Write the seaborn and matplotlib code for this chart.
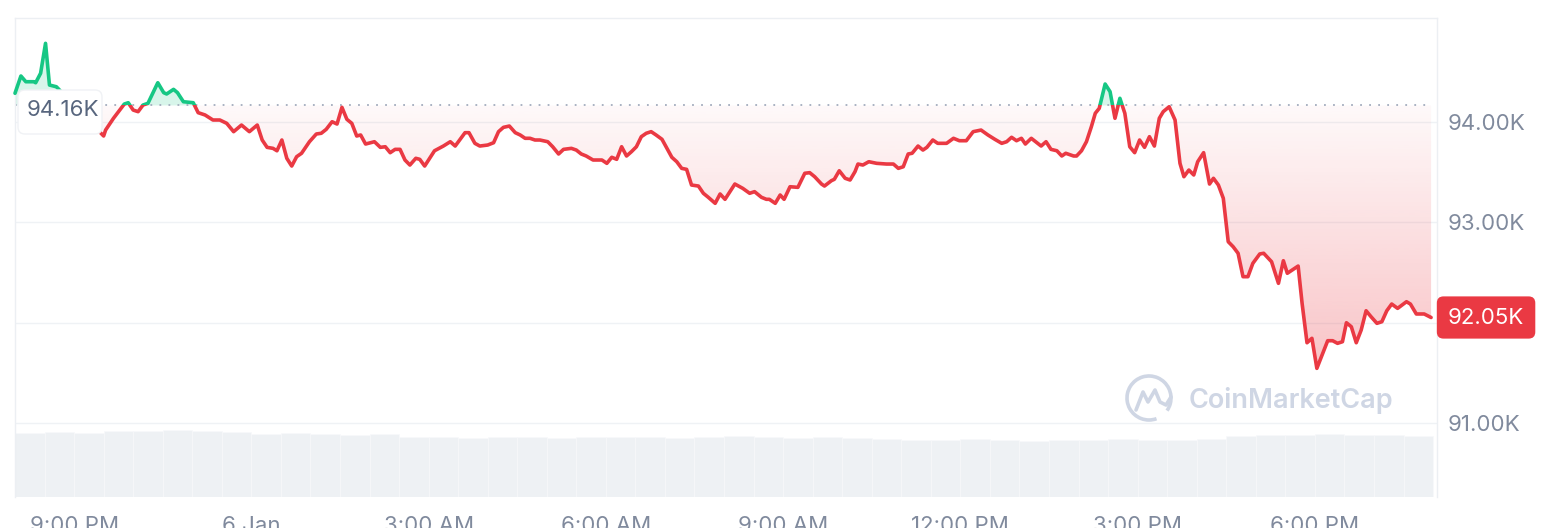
import numpy as np
import pandas as pd
import seaborn as sns
import matplotlib.pyplot as plt
import matplotlib.dates as mdates
from matplotlib.patches import Rectangle, Arc, FancyBboxPatch
from matplotlib.path import Path
from matplotlib.ticker import FixedLocator

# BTC price, 24h window, minutes after 5 Jan 20:00
start = pd.Timestamp('2025-01-05 20:00')
minutes = [0, 6, 11, 19, 21, 26, 31, 35, 42,
           90, 92, 100, 111, 115, 120, 125, 130, 135, 145, 151, 154, 161, 165, 171, 181, 186, 193, 201, 208,
           215, 222, 230, 238,
           246, 251, 256, 262, 266, 271, 276, 281, 286, 291, 299, 306, 311, 316, 322, 327, 332, 337, 342, 347,
           351, 356, 361, 365, 371, 376, 381, 386, 391, 396, 401, 407, 411, 416, 421, 426, 435, 442, 447, 452,
           457, 461, 467, 472,
           480, 486, 491, 496, 502, 508, 513, 518, 523, 528, 533, 541, 546, 552, 557, 565, 570, 575, 580, 587,
           596, 601, 606, 611, 616, 621, 626, 631, 636, 641, 646, 651, 657, 662, 667, 672, 677, 682, 687, 694,
           699, 704, 711, 716, 721,
           731, 739, 746, 751, 758, 763, 766, 772, 777, 781, 787, 795, 802, 807, 812, 819, 822, 829, 832, 837,
           843, 848, 853, 856, 861, 867, 875, 885, 892, 897, 902, 907, 911, 917, 922, 926, 932, 937, 946, 953,
           959, 966,
           973, 981, 988, 995, 1002, 1007, 1012, 1017, 1022, 1026, 1032, 1042, 1047, 1052, 1058, 1063, 1067,
           1075, 1078, 1083, 1088, 1093, 1097, 1101, 1107, 1112, 1117, 1122, 1127, 1132, 1137, 1142, 1147,
           1152, 1157, 1162, 1166, 1172, 1178, 1183, 1187, 1192, 1197, 1201, 1207,
           1213, 1217, 1222, 1227, 1232, 1237, 1242, 1247, 1252, 1257, 1264, 1268, 1276, 1283, 1288, 1292,
           1298, 1303, 1307, 1312, 1317, 1322, 1328, 1333, 1338, 1343, 1348, 1352, 1357, 1362, 1367, 1372,
           1377, 1383, 1388, 1393, 1398, 1404, 1413, 1417, 1423, 1431, 1438]
price = [94281, 94453, 94396, 94396, 94386, 94480, 94778, 94363, 94346,
         93856, 93915, 94032, 94174, 94187, 94114, 94098, 94164, 94181, 94386, 94287, 94274, 94320, 94287,
         94197, 94187, 94088, 94065, 94015, 94015, 93982, 93899, 93965, 93899,
         93965, 93816, 93743, 93733, 93709, 93816, 93634, 93557, 93650, 93684, 93799, 93876, 93883, 93922,
         93998, 93975, 94141, 94022, 93982, 93856, 93866, 93776, 93789, 93799, 93743, 93749, 93690, 93723,
         93723, 93617, 93567, 93634, 93624, 93557, 93634, 93709, 93756, 93799, 93756, 93823, 93889, 93889,
         93783, 93756,
         93766, 93789, 93899, 93942, 93955, 93889, 93866, 93833, 93833, 93816, 93816, 93799, 93749, 93677,
         93723, 93733, 93716, 93677, 93657, 93617, 93617, 93584, 93644, 93624, 93749, 93657, 93700, 93749,
         93849, 93883, 93899, 93866, 93823, 93733, 93644, 93600, 93534, 93524, 93368, 93358, 93286, 93246,
         93186, 93279, 93226,
         93378, 93335, 93286, 93302, 93246, 93226, 93226, 93186, 93269, 93226, 93351, 93345, 93485, 93491,
         93451, 93378, 93358, 93411, 93425, 93510, 93435, 93418, 93501, 93577, 93567, 93600, 93584, 93577,
         93577, 93534, 93550, 93677, 93684, 93756, 93716, 93743, 93816, 93783, 93783, 93833, 93809, 93809,
         93899, 93915, 93866, 93823, 93783, 93799, 93843, 93809, 93833, 93776, 93833, 93756, 93799, 93723,
         93709, 93657, 93684, 93657, 93657, 93709, 93799, 93948, 94082, 94131, 94373, 94297, 94032, 94231,
         94082, 93749, 93690, 93816, 93743, 93849, 93756, 94032, 94098, 94147, 94015, 93584, 93451, 93517,
         93468, 93600, 93690,
         93378, 93435, 93368, 93236, 92804, 92754, 92689, 92456, 92456, 92589, 92682, 92689, 92605, 92390,
         92615, 92490, 92529, 92562, 92191, 91799, 91843, 91544, 91694, 91819, 91819, 91793, 91809, 91998,
         91958, 91799, 91925, 92117, 92058, 91992, 92008, 92117, 92184, 92141, 92207, 92184, 92085, 92085,
         92050]
open_price = 94160
last_price = 92050

# volume, 30 minute buckets (relative)
volume = [65, 66, 65, 67, 67, 68, 67, 66, 64, 65, 64, 63, 64, 61, 61, 60, 61, 61, 60, 61, 61, 61, 60, 61,
          62, 61, 60, 61, 60, 59, 58, 58, 59, 58, 57, 58, 58, 59, 58, 58, 59, 62, 63, 63, 64, 63, 63, 62]

tick_times = ['2025-01-05 21:00', '2025-01-06 00:00', '2025-01-06 03:00', '2025-01-06 06:00',
              '2025-01-06 09:00', '2025-01-06 12:00', '2025-01-06 15:00', '2025-01-06 18:00']
tick_labels = ['9:00 PM', '6 Jan', '3:00 AM', '6:00 AM', '9:00 AM', '12:00 PM', '3:00 PM', '6:00 PM']
price_ticks = [91000, 92000, 93000, 94000]
price_tick_labels = ['91.00K', '', '93.00K', '94.00K']  # 92.00K sits under the last-price tag

RED = '#ea3943'
GREEN = '#16c784'
GRAY = '#808a9d'

df = pd.DataFrame({'time': start + pd.to_timedelta(minutes, unit='min'), 'price': price})
df['t'] = mdates.date2num(df['time'])
x = df['t'].to_numpy()
p = df['price'].to_numpy(dtype=float)

sns.set_theme(style='white')
plt.rcParams['font.family'] = ['Inter', 'DejaVu Sans']

fig = plt.figure(figsize=(15.66, 5.28), dpi=100)
L, R = 15 / 1566, 1437 / 1566
B, T = 31 / 528, 510 / 528

# volume strip
ax_v = fig.add_axes([L, B, R - L, 67 / 528])
sns.barplot(x=np.arange(len(volume)), y=volume, ax=ax_v, color='#eef1f4', saturation=1,
            width=1, edgecolor='#f8f9fb', linewidth=0.4)
ax_v.set_xlim(-0.5, -0.5 + 1444 / 30)
ax_v.set_ylim(0, max(volume))
ax_v.axis('off')

ax = fig.add_axes([L, B, R - L, T - B])
ax.patch.set_alpha(0)
x0 = mdates.date2num(start)
x1 = x0 + 1444 / 1440
ylo, yhi = 90264, 95030

# fills
ax.fill_between(x, p, open_price, where=p >= open_price, interpolate=True,
                color=GREEN, alpha=0.17, lw=0, zorder=1)
red_fill = ax.fill_between(x, p, open_price, where=p <= open_price, interpolate=True,
                           facecolor='none', lw=0, zorder=1)
grad = np.zeros((256, 1, 4))
grad[..., :3] = plt.matplotlib.colors.to_rgb(RED)
grad[:, 0, 3] = np.linspace(0.03, 0.30, 256)
im = ax.imshow(grad, extent=[x[0], x[-1], p.min(), open_price], origin='upper',
               aspect='auto', zorder=1, interpolation='bilinear')
im.set_clip_path(Path.make_compound_path(*red_fill.get_paths()), ax.transData)

# price line, red below the open and green above it
sns.lineplot(data=df, x='t', y='price', ax=ax, color=RED, linewidth=2.6, estimator=None, zorder=3)
ln_red = ax.lines[-1]
ln_red.set_clip_path(Rectangle((x0 - 1, 0), 3, open_price, transform=ax.transData))
sns.lineplot(data=df, x='t', y='price', ax=ax, color=GREEN, linewidth=2.6, estimator=None, zorder=3)
ln_green = ax.lines[-1]
ln_green.set_clip_path(Rectangle((x0 - 1, open_price), 3, 1e6, transform=ax.transData))

ax.axhline(open_price, xmin=0, xmax=(x[-1] - x0) / (x1 - x0), ls=(0, (1, 4)), lw=1.3,
           color='#a3acbd', zorder=2)

ax.set_xlim(x0, x1)
ax.set_ylim(ylo, yhi)
ax.set_xlabel('')
ax.set_ylabel('')

ax.set_yticks(price_ticks)
ax.set_yticklabels(price_tick_labels)
ax.yaxis.tick_right()
ax.yaxis.grid(True, color='#eff2f5', lw=1)
ax.xaxis.grid(False)
ax.xaxis.set_major_locator(FixedLocator(mdates.date2num(pd.to_datetime(tick_times))))
ax.set_xticklabels(tick_labels)
ax.tick_params(axis='y', length=0, pad=8, labelsize=16, labelcolor=GRAY)
ax.tick_params(axis='x', length=0, pad=14, labelsize=16, labelcolor=GRAY)
for s in ax.spines.values():
    s.set_color('#eceff3')
    s.set_linewidth(1)
ax.spines['bottom'].set_visible(False)

# open price tag (white box hides the line behind it)
fig.patches.append(FancyBboxPatch((0.18, 3.94), 0.84, 0.44, boxstyle='round,pad=0,rounding_size=0.07',
                                  fc='white', ec='#f0f2f5', lw=1, zorder=5,
                                  transform=fig.dpi_scale_trans, figure=fig))
fig.text(0.63, 4.18, f'{open_price / 1000:.2f}K', transform=fig.dpi_scale_trans,
         ha='center', va='center', fontsize=16, color='#58667e', zorder=6)

# last price tag
ax.annotate(f'{last_price / 1000:.2f}K', xy=(1.0345, last_price), xycoords=ax.get_yaxis_transform(),
            ha='center', va='center', fontsize=16, color='white', annotation_clip=False, zorder=6,
            bbox=dict(boxstyle='round,pad=0.5,rounding_size=0.3', fc=RED, ec='none'))

# watermark
wm = '#cfd6e4'
fig.text(1189 / 1566, (528 - 400) / 528, 'CoinMarketCap', fontsize=19.5, color=wm,
         weight='semibold', va='center', ha='left')
fig.patches.append(Arc((11.49, 1.30), 0.44, 0.44, theta1=-35, theta2=290, lw=2.6, color=wm,
                       transform=fig.dpi_scale_trans, figure=fig))
zz = np.array([[1136, 410], [1143, 392], [1148, 402], [1155, 390], [1160, 402], [1166, 405], [1171, 397]])
fig.lines.append(plt.Line2D(zz[:, 0] / 100, (528 - zz[:, 1]) / 100, lw=2.6, color=wm,
                            solid_capstyle='round', transform=fig.dpi_scale_trans, figure=fig))

fig.savefig('out.png', dpi=100)
